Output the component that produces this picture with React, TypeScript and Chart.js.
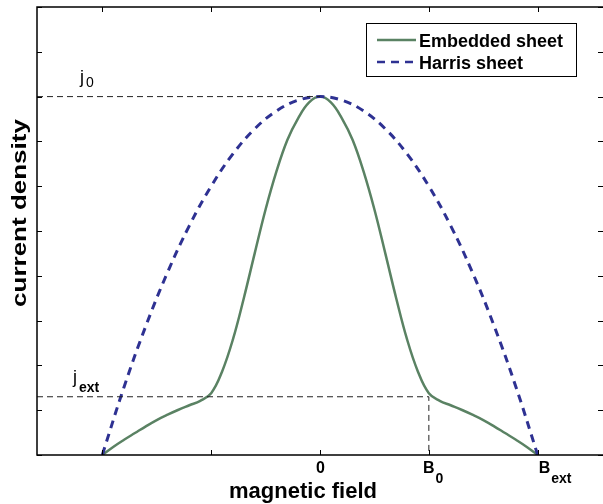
import React, { useEffect, useRef } from "react";
import { Chart, registerables } from "chart.js";

Chart.register(...registerables);

const harrisX = [-2, -1.8, -1.6, -1.4, -1.2, -1, -0.8, -0.6, -0.4, -0.2, 0, 0.2, 0.4, 0.6, 0.8, 1, 1.2, 1.4, 1.6, 1.8, 2];
const harrisY = [0, 1.52, 2.88, 4.08, 5.12, 6, 6.72, 7.28, 7.68, 7.92, 8, 7.92, 7.68, 7.28, 6.72, 6, 5.12, 4.08, 2.88, 1.52, 0];

const embeddedX = [-2, -1.9, -1.8, -1.7, -1.6, -1.5, -1.4, -1.3, -1.2, -1.1, -1, -0.9, -0.8, -0.7, -0.6, -0.5, -0.4, -0.3, -0.2, -0.1, 0,
  0.1, 0.2, 0.3, 0.4, 0.5, 0.6, 0.7, 0.8, 0.9, 1, 1.1, 1.2, 1.3, 1.4, 1.5, 1.6, 1.7, 1.8, 1.9, 2];
const embeddedY = [0, 0.18, 0.34, 0.49, 0.64, 0.78, 0.9, 1.01, 1.11, 1.21, 1.38, 1.86, 2.58, 3.5, 4.5, 5.48, 6.33, 7.03, 7.52, 7.87, 8,
  7.87, 7.52, 7.03, 6.33, 5.48, 4.5, 3.5, 2.58, 1.86, 1.38, 1.21, 1.11, 1.01, 0.9, 0.78, 0.64, 0.49, 0.34, 0.18, 0];

const j0Value = 8;
const jextValue = 1.3;
const b0Value = 1;

const xTickValues = [-2, -1, 0, 1, 2];
const xTickMain = ["", "", "0", "B", "B"];
const xTickSub = ["", "", "", "0", "ext"];
const yTickValues = [0, 1, 2, 3, 4, 5, 6, 7, 8, 9, 10];

const legendLabels = ["Embedded sheet", "Harris sheet"];
const xTitle = "magnetic field";
const yTitle = "current density";

const GREEN = "#5a8263";
const BLUE = "#2e3192";
const FONT = "'Liberation Sans', Arial, sans-serif";

const decorPlugin = {
  id: "decor",
  afterDraw(chart: any) {
    const ctx = chart.ctx;
    const { left, right, top, bottom } = chart.chartArea;
    const xs = chart.scales.x;
    const ys = chart.scales.y;
    ctx.save();
    // frame (right edge lies beyond the canvas)
    ctx.strokeStyle = "#000";
    ctx.lineWidth = 1.5;
    ctx.setLineDash([]);
    ctx.beginPath();
    ctx.moveTo(right, top);
    ctx.lineTo(left, top);
    ctx.lineTo(left, bottom);
    ctx.lineTo(right, bottom);
    ctx.stroke();
    // ticks
    ctx.lineWidth = 1;
    ctx.beginPath();
    yTickValues.forEach((v) => {
      const py = Math.round(ys.getPixelForValue(v)) + 0.5;
      ctx.moveTo(left, py);
      ctx.lineTo(left + 5, py);
      ctx.moveTo(right - 5, py);
      ctx.lineTo(right, py);
    });
    xTickValues.forEach((v) => {
      const px = Math.round(xs.getPixelForValue(v)) + 0.5;
      ctx.moveTo(px, bottom);
      ctx.lineTo(px, bottom - 5);
      ctx.moveTo(px, top);
      ctx.lineTo(px, top + 5);
    });
    ctx.stroke();
    // tick labels
    ctx.fillStyle = "#000";
    ctx.textBaseline = "alphabetic";
    xTickValues.forEach((v, i) => {
      const main = xTickMain[i];
      if (!main) return;
      const px = xs.getPixelForValue(v);
      ctx.font = `bold 16px ${FONT}`;
      const mw = ctx.measureText(main).width;
      const sub = xTickSub[i];
      if (!sub) {
        ctx.textAlign = "center";
        ctx.fillText(main, px + 0.5, bottom + 18);
      } else {
        ctx.textAlign = "left";
        const x0 = sub.length > 1 ? px + 1 : px - mw / 2;
        ctx.fillText(main, x0, bottom + 18);
        ctx.font = `bold 14px ${FONT}`;
        ctx.fillText(sub, x0 + mw + 1, bottom + 28);
      }
    });
    // guide labels
    ctx.textAlign = "left";
    const yj0 = ys.getPixelForValue(j0Value);
    const yjx = ys.getPixelForValue(jextValue);
    ctx.font = `18px ${FONT}`;
    ctx.fillText("j", 80, yj0 - 14);
    ctx.font = `14px ${FONT}`;
    ctx.fillText("0", 86, yj0 - 10);
    ctx.font = `18px ${FONT}`;
    ctx.fillText("j", 73, yjx - 14);
    ctx.font = `bold 14px ${FONT}`;
    ctx.fillText("ext", 79, yjx - 5);
    // legend
    ctx.lineWidth = 1;
    ctx.strokeStyle = "#000";
    ctx.fillStyle = "#fff";
    ctx.fillRect(366.5, 23.5, 210, 53);
    ctx.strokeRect(366.5, 23.5, 210, 53);
    ctx.lineWidth = 2.5;
    ctx.strokeStyle = GREEN;
    ctx.beginPath();
    ctx.moveTo(377, 40);
    ctx.lineTo(416, 40);
    ctx.stroke();
    ctx.strokeStyle = BLUE;
    ctx.setLineDash([8, 6]);
    ctx.beginPath();
    ctx.moveTo(377, 62);
    ctx.lineTo(416, 62);
    ctx.stroke();
    ctx.setLineDash([]);
    ctx.fillStyle = "#000";
    ctx.font = `bold 18px ${FONT}`;
    ctx.fillText(legendLabels[0], 419, 47);
    ctx.fillText(legendLabels[1], 419, 69);
    // axis titles
    ctx.font = `bold 22px ${FONT}`;
    ctx.textAlign = "center";
    ctx.fillText(xTitle, 303, 498);
    ctx.save();
    ctx.translate(26, 213);
    ctx.rotate(-Math.PI / 2);
    ctx.scale(1.3, 1);
    ctx.font = `bold 20px ${FONT}`;
    ctx.fillText(yTitle, 0, 0);
    ctx.restore();
    ctx.restore();
  },
};

export default function App() {
  const ref = useRef<HTMLCanvasElement | null>(null);
  useEffect(() => {
    if (!ref.current) return;
    const chart = new Chart(ref.current, {
      type: "line",
      data: {
        datasets: [
          {
            label: "j0 guide",
            data: [
              { x: -2.6, y: j0Value },
              { x: 0, y: j0Value },
            ],
            borderColor: "#222",
            borderWidth: 1,
            borderDash: [6, 4],
            pointRadius: 0,
            tension: 0,
          },
          {
            label: "jext guide",
            data: [
              { x: -2.6, y: jextValue },
              { x: b0Value, y: jextValue },
              { x: b0Value, y: 0 },
            ],
            borderColor: "#222",
            borderWidth: 1,
            borderDash: [6, 4],
            pointRadius: 0,
            tension: 0,
          },
          {
            label: legendLabels[1],
            data: harrisX.map((x, i) => ({ x, y: harrisY[i] })),
            borderColor: BLUE,
            borderWidth: 3,
            borderDash: [8, 6],
            pointRadius: 0,
            tension: 0.4,
          },
          {
            label: legendLabels[0],
            data: embeddedX.map((x, i) => ({ x, y: embeddedY[i] })),
            borderColor: GREEN,
            borderWidth: 2.5,
            pointRadius: 0,
            tension: 0.4,
          },
        ],
      },
      options: {
        animation: false,
        responsive: false,
        maintainAspectRatio: false,
        layout: { padding: { left: 37, right: 0, top: 7, bottom: 49 } },
        scales: {
          x: { type: "linear", min: -2.6, max: 2.6, display: false },
          y: { type: "linear", min: 0, max: 10, display: false },
        },
        plugins: { legend: { display: false }, tooltip: { enabled: false } },
      },
      plugins: [decorPlugin],
    } as any);
    return () => chart.destroy();
  }, []);
  return (
    <div style={{ position: "absolute", left: 0, top: 0, width: 603, height: 504, background: "#fff" }}>
      <canvas ref={ref} width={603} height={504} />
    </div>
  );
}
